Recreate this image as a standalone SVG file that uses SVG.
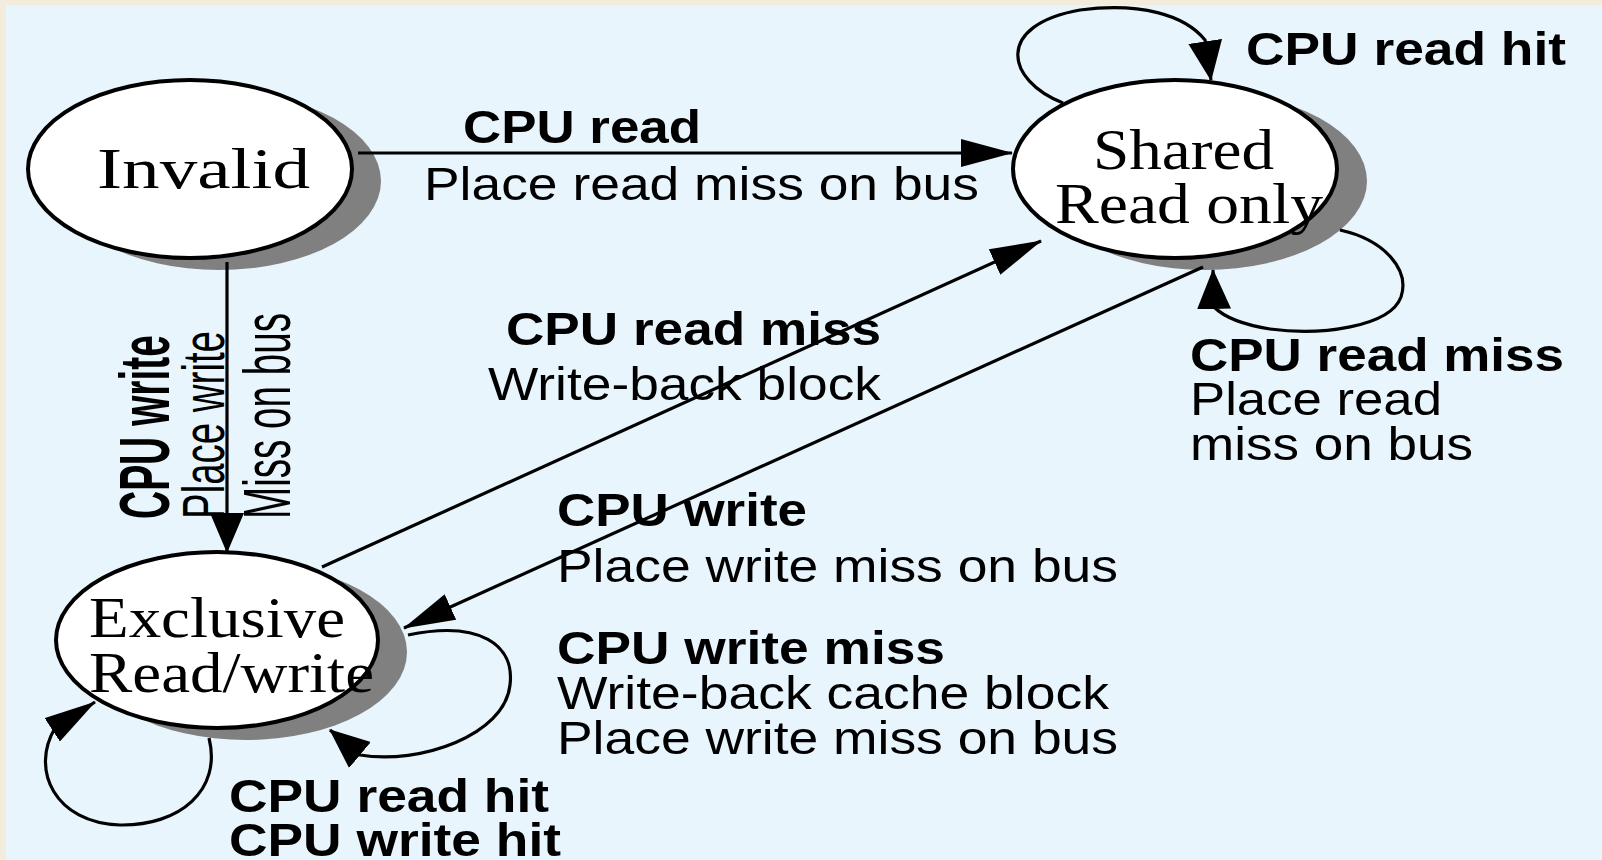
<svg xmlns="http://www.w3.org/2000/svg" width="1602" height="860" viewBox="0 0 1602 860">
<style>
.shadow{fill:#808080;stroke:none}
.node{fill:#ffffff;stroke:#000;stroke-width:4}
.st{font-family:"Liberation Serif","Times New Roman",serif;font-size:58px;fill:#000}
.edge{fill:none;stroke:#000;stroke-width:3.2}
.lb{font-family:"Liberation Sans",Arial,sans-serif;font-size:47px;fill:#000;font-weight:bold}
.lr{font-family:"Liberation Sans",Arial,sans-serif;font-size:47px;fill:#000}
</style>
<defs>
<marker id="ahL" markerUnits="userSpaceOnUse" viewBox="0 0 52 28" refX="51" refY="14" markerWidth="52" markerHeight="28" orient="auto"><path d="M0,0 L52,14 L0,28 Z" fill="#000"/></marker>
<marker id="ahS" markerUnits="userSpaceOnUse" viewBox="0 0 40 34" refX="39" refY="17" markerWidth="40" markerHeight="34" orient="auto"><path d="M0,0 L40,17 L0,34 Z" fill="#000"/></marker>
</defs>
<rect x="0" y="0" width="1602" height="860" fill="#E9F5FD"/>
<rect x="0" y="0" width="1602" height="5" fill="#F3ECDD"/>
<rect x="0" y="0" width="6" height="860" fill="#F3ECDD"/>

<g id="node-invalid">
<ellipse class="shadow" cx="219" cy="181" rx="162" ry="89"/>
<ellipse class="node" cx="190" cy="169" rx="162" ry="89"/>
<text class="st" x="97" y="188" textLength="213" lengthAdjust="spacingAndGlyphs">Invalid</text>
</g>
<g id="node-shared">
<ellipse class="shadow" cx="1205" cy="181" rx="162" ry="89"/>
<ellipse class="node" cx="1175" cy="169" rx="162" ry="89"/>
<text class="st" x="1093" y="169" textLength="181" lengthAdjust="spacingAndGlyphs">Shared</text>
<text class="st" x="1055" y="223" textLength="268" lengthAdjust="spacingAndGlyphs">Read only</text>
</g>
<g id="node-exclusive">
<ellipse class="shadow" cx="246" cy="652" rx="161" ry="88"/>
<ellipse class="node" cx="217" cy="640" rx="161" ry="88"/>
<text class="st" x="89" y="637" textLength="256" lengthAdjust="spacingAndGlyphs">Exclusive</text>
<text class="st" x="89" y="692" textLength="285" lengthAdjust="spacingAndGlyphs">Read/write</text>
</g>

<g id="connectors">
<path class="edge" d="M358 153 L1012 153" marker-end="url(#ahL)"/>
<path class="edge" d="M227 262 L227 552" marker-end="url(#ahS)"/>
<path class="edge" d="M322 567 L1041 241" marker-end="url(#ahL)"/>
<path class="edge" d="M1203 267 L404 628" marker-end="url(#ahL)"/>
<path class="edge" d="M1063 103 C1005 80 995 25 1080 10 C1140 2 1185 15 1205 40 L1211 80" marker-end="url(#ahS)"/>
<path class="edge" d="M1340 230 C1385 240 1410 270 1401 297 C1390 327 1320 336 1270 329 C1245 325 1225 318 1214 307 L1213 270" marker-end="url(#ahS)"/>
<path class="edge" d="M408 635 C480 620 515 645 510 685 C505 735 420 765 360 755 L330 730" marker-end="url(#ahS)"/>
<path class="edge" d="M209 738 C222 790 180 826 120 825 C55 823 30 770 55 728 L95 702" marker-end="url(#ahL)"/>
</g>

<g id="labels">
<text class="lb" x="463" y="143" textLength="238" lengthAdjust="spacingAndGlyphs">CPU read</text>
<text class="lr" x="424" y="200" textLength="555" lengthAdjust="spacingAndGlyphs">Place read miss on bus</text>
<text class="lb" x="1246" y="65" textLength="320" lengthAdjust="spacingAndGlyphs">CPU read hit</text>
<text class="lb" x="1190" y="371" textLength="374" lengthAdjust="spacingAndGlyphs">CPU read miss</text>
<text class="lr" x="1190" y="415" textLength="252" lengthAdjust="spacingAndGlyphs">Place read</text>
<text class="lr" x="1190" y="460" textLength="283" lengthAdjust="spacingAndGlyphs">miss on bus</text>
<text class="lb" x="506" y="345" textLength="375" lengthAdjust="spacingAndGlyphs">CPU read miss</text>
<text class="lr" x="488" y="400" textLength="393" lengthAdjust="spacingAndGlyphs">Write-back block</text>
<text class="lb" x="557" y="526" textLength="250" lengthAdjust="spacingAndGlyphs">CPU write</text>
<text class="lr" x="557" y="582" textLength="561" lengthAdjust="spacingAndGlyphs">Place write miss on bus</text>
<text class="lb" x="557" y="664" textLength="388" lengthAdjust="spacingAndGlyphs">CPU write miss</text>
<text class="lr" x="557" y="709" textLength="552" lengthAdjust="spacingAndGlyphs">Write-back cache block</text>
<text class="lr" x="557" y="754" textLength="561" lengthAdjust="spacingAndGlyphs">Place write miss on bus</text>
<text class="lb" x="229" y="812" textLength="320" lengthAdjust="spacingAndGlyphs">CPU read hit</text>
<text class="lb" x="229" y="856" textLength="332" lengthAdjust="spacingAndGlyphs">CPU write hit</text>
<text class="lb" style="font-size:70px" transform="translate(169 519) rotate(-90)" textLength="184" lengthAdjust="spacingAndGlyphs">CPU write</text>
<text class="lr" style="font-size:59px" transform="translate(224 519) rotate(-90)" textLength="188" lengthAdjust="spacingAndGlyphs">Place write</text>
<text class="lr" style="font-size:67px" transform="translate(290 519) rotate(-90)" textLength="206" lengthAdjust="spacingAndGlyphs">Miss on bus</text>
</g>
</svg>
